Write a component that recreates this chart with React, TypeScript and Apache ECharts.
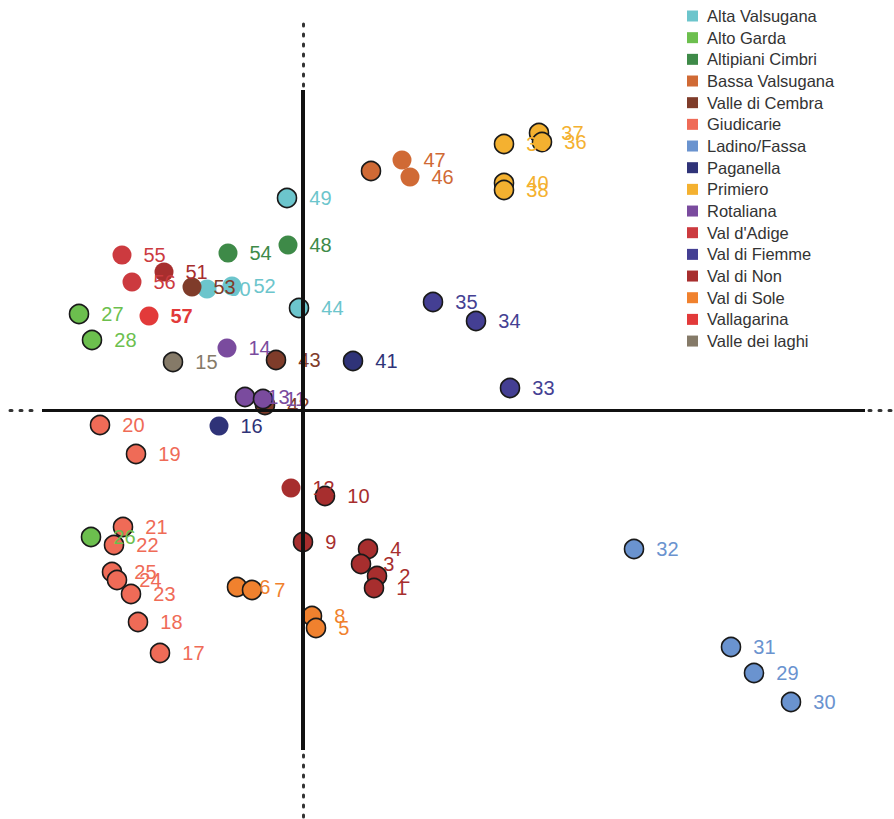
import React, { useEffect, useRef } from "react";
import * as echarts from "echarts";

const seriesNames = [
  "Alta Valsugana", "Alto Garda", "Altipiani Cimbri", "Bassa Valsugana", "Valle di Cembra",
  "Giudicarie", "Ladino/Fassa", "Paganella", "Primiero", "Rotaliana", "Val d'Adige",
  "Val di Fiemme", "Val di Non", "Val di Sole", "Vallagarina", "Valle dei laghi",
];
const seriesColors = [
  "#6cc5cc", "#6cbf4e", "#3e8a48", "#d06a35", "#7f3c2a", "#ef6b57", "#6a93cf", "#2f3378",
  "#f4b130", "#7a4b9e", "#cc3a3f", "#443f93", "#a72e2e", "#f0812e", "#e23a3a", "#857a68",
];

// [id, x, y]
const altaValsugana = [[49, -0.16, 2.12], [44, -0.04, 1.02], [50, -0.96, 1.21], [52, -0.71, 1.24]];
const altoGarda = [[27, -2.24, 0.96], [28, -2.11, 0.7], [26, -2.12, -1.27]];
const altipianiCimbri = [[54, -0.75, 1.57], [48, -0.15, 1.65]];
const bassaValsugana = [[45, 0.68, 2.39], [47, 0.99, 2.5], [46, 1.07, 2.33]];
const valleDiCembra = [[53, -1.11, 1.23], [43, -0.27, 0.5], [42, -0.38, 0.05]];
const giudicarie = [
  [20, -2.03, -0.15], [19, -1.67, -0.44], [21, -1.8, -1.17], [22, -1.89, -1.35], [25, -1.91, -1.62],
  [24, -1.86, -1.7], [23, -1.72, -1.84], [18, -1.65, -2.12], [17, -1.43, -2.43],
];
const ladinoFassa = [[32, 3.31, -1.39], [31, 4.28, -2.37], [29, 4.51, -2.63], [30, 4.88, -2.92]];
const paganella = [[41, 0.5, 0.49], [16, -0.84, -0.16]];
const primiero = [[39, 2.01, 2.66], [37, 2.36, 2.77], [36, 2.39, 2.68], [40, 2.01, 2.27], [38, 2.01, 2.2]];
const rotaliana = [[14, -0.76, 0.62], [13, -0.58, 0.13], [11, -0.4, 0.11]];
const valDAdige = [[55, -1.81, 1.55], [56, -1.71, 1.28]];
const valDiFiemme = [[35, 1.3, 1.08], [34, 1.73, 0.89], [33, 2.07, 0.22]];
const valDiNon = [
  [51, -1.39, 1.38], [10, 0.22, -0.86], [12, -0.12, -0.78], [9, 0.0, -1.32], [4, 0.65, -1.39],
  [3, 0.58, -1.54], [2, 0.74, -1.66], [1, 0.71, -1.78],
];
const valDiSole = [[6, -0.66, -1.77], [7, -0.51, -1.8], [8, 0.09, -2.06], [5, 0.13, -2.18]];
const vallagarina = [[57, -1.54, 0.94]];
const valleDeiLaghi = [[15, -1.3, 0.48]];

const groups = [
  altaValsugana, altoGarda, altipianiCimbri, bassaValsugana, valleDiCembra, giudicarie,
  ladinoFassa, paganella, primiero, rotaliana, valDAdige, valDiFiemme, valDiNon, valDiSole,
  vallagarina, valleDeiLaghi,
];

const outlined = [
  49, 44, 27, 28, 26, 15, 13, 11, 43, 42, 45, 20, 21, 22, 23, 24, 25, 17, 18, 19, 29, 30, 31, 32,
  36, 37, 38, 39, 40, 10, 9, 1, 2, 3, 4, 5, 6, 7, 8, 33, 34, 35, 41,
];
const hiddenLabels = [45];
const boldLabels = [57];

// axis segments in data units
const axisSolid = [
  [[-2.61, 0], [5.62, 0]],
  [[0, 3.2], [0, -3.4]],
];
const axisDotted = [
  [[-2.93, 0], [-2.63, 0]],
  [[5.66, 0], [5.88, 0]],
  [[0, 3.86], [0, 3.24]],
  [[0, -3.45], [0, -4.08]],
];

export default function App() {
  const ref = useRef<HTMLDivElement>(null);
  useEffect(() => {
    if (!ref.current) return;
    const chart = echarts.init(ref.current, undefined, { renderer: "svg" });
    const font = "'Liberation Sans', Arial, sans-serif";

    const scatterSeries = groups.map((g, i) => ({
      name: seriesNames[i],
      type: "scatter",
      symbol: "circle",
      symbolSize: 19,
      z: 3,
      itemStyle: { color: seriesColors[i], opacity: 1 },
      label: {
        show: true,
        position: "right",
        distance: 12,
        color: seriesColors[i],
        fontSize: 20,
        fontFamily: font,
        formatter: (p: any) => String(p.data.value[2]),
      },
      data: g.map((d) => {
        const id = d[0];
        const item: any = { value: [d[1], d[2], id] };
        if (outlined.includes(id)) {
          item.itemStyle = { borderColor: "#1a1a1a", borderWidth: 1.6 };
        }
        if (hiddenLabels.includes(id)) item.label = { show: false };
        if (boldLabels.includes(id)) item.label = { fontWeight: "bold" };
        return item;
      }),
    }));

    const lineSeries = {
      name: "axes",
      type: "scatter",
      data: [],
      z: 1,
      silent: true,
      markLine: {
        silent: true,
        symbol: ["none", "none"],
        label: { show: false },
        animation: false,
        data: [
          ...axisSolid.map((s, k) => [
            { coord: s[0], lineStyle: { color: "#111", width: k === 0 ? 3 : 4, type: "solid" } },
            { coord: s[1] },
          ]),
          ...axisDotted.map((s) => [
            { coord: s[0], lineStyle: { color: "#333", width: 3, type: [2, 8], cap: "round" } },
            { coord: s[1] },
          ]),
        ],
      },
    };

    chart.setOption({
      animation: false,
      backgroundColor: "#ffffff",
      grid: { left: 0, right: 0, top: 0, bottom: 0, containLabel: false },
      xAxis: { type: "value", min: -3.03, max: 5.91, show: false, splitLine: { show: false } },
      yAxis: { type: "value", min: -4.09, max: 4.1, show: false, splitLine: { show: false } },
      legend: {
        data: seriesNames,
        orient: "vertical",
        left: 687,
        top: 7.5,
        padding: 0,
        icon: "rect",
        itemWidth: 11,
        itemHeight: 11,
        itemGap: 4.67,
        textStyle: { fontSize: 16.5, color: "#333", fontFamily: font, padding: [0, 0, 0, 4] },
        selectedMode: false,
      },
      series: [lineSeries, ...scatterSeries],
    });
    return () => chart.dispose();
  }, []);
  return (
    <div
      ref={ref}
      style={{ position: "fixed", left: 0, top: 0, width: 894, height: 819 }}
    />
  );
}
